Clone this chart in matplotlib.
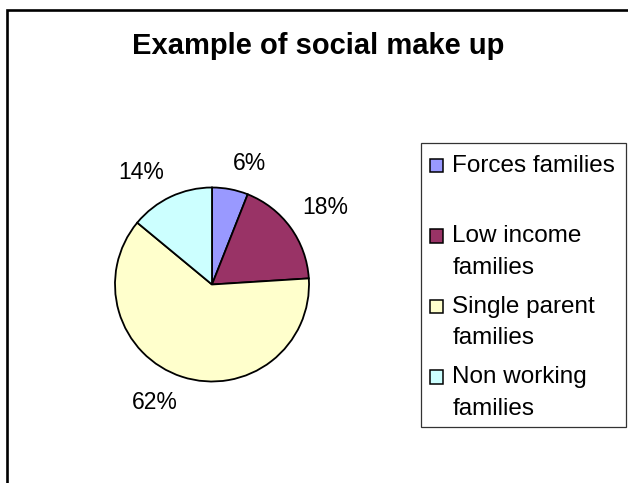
import numpy as np
import matplotlib
matplotlib.use("Agg")
import matplotlib.pyplot as plt
from matplotlib.patches import Rectangle
from matplotlib.lines import Line2D

title = "Example of social make up"
categories = ["Forces families", "Low income\nfamilies", "Single parent\nfamilies", "Non working\nfamilies"]
values = [6, 18, 62, 14]
colors = ["#9999FF", "#993366", "#FFFFCC", "#CCFFFF"]

plt.rcParams['font.family'] = ['Liberation Sans', 'DejaVu Sans']

W, H = 628, 483
fig = plt.figure(figsize=(W / 100, H / 100), dpi=100)
fig.patch.set_facecolor("white")

def fx(px):
    return px / W

def fy(py):
    return 1 - py / H

# outer chart-area border (left and top visible)
fig.add_artist(Line2D([fx(7), fx(7), 1.05], [-0.05, fy(10), fy(10)],
                      transform=fig.transFigure, color="black", lw=1.9,
                      solid_joinstyle="miter"))

# title
fig.text(fx(318), fy(46), title, ha="center", va="center",
         fontsize=21, fontweight="bold")

# pie
cx, cy, r = 212, 284.5, 97
ax = fig.add_axes([fx(cx - r), fy(cy + r), 2 * r / W, 2 * r / H])
wedges, _ = ax.pie(values, colors=colors, startangle=90, counterclock=False,
                   radius=1, wedgeprops=dict(edgecolor="black", linewidth=1.3))
ax.set_xlim(-1, 1)
ax.set_ylim(-1, 1)
ax.set_aspect("auto")
ax.axis("off")

total = sum(values)
for w, v in zip(wedges, values):
    mid = np.deg2rad((w.theta1 + w.theta2) / 2)
    x, y = 1.15 * np.cos(mid), 1.15 * np.sin(mid)
    ha = "left" if np.cos(mid) > 0 else "right"
    va = "bottom" if np.sin(mid) > 0 else "top"
    ax.text(x, y, f"{round(100 * v / total)}%", ha=ha, va=va,
            fontsize=16.5, clip_on=False)

# legend
fig.add_artist(Rectangle((fx(420.5), fy(427)), fx(625.5) - fx(420.5), fy(143) - fy(427),
                         transform=fig.transFigure, facecolor="white",
                         edgecolor="#333333", lw=0.9))
first_baseline = 171.7
entry_step = 70.5
line_step = 31.5
for i, (lab, col) in enumerate(zip(categories, colors)):
    base = first_baseline + i * entry_step
    fig.add_artist(Rectangle((fx(429.5), fy(base + 0.5)), fx(443) - fx(429.5),
                             fy(base - 13) - fy(base + 0.5),
                             transform=fig.transFigure, facecolor=col,
                             edgecolor="black", lw=1.1))
    for j, line in enumerate(lab.split("\n")):
        fig.text(fx(452.5), fy(base + j * line_step), line, ha="left",
                 va="baseline", fontsize=17.5)

fig.savefig("out.png", dpi=100, facecolor="white")
